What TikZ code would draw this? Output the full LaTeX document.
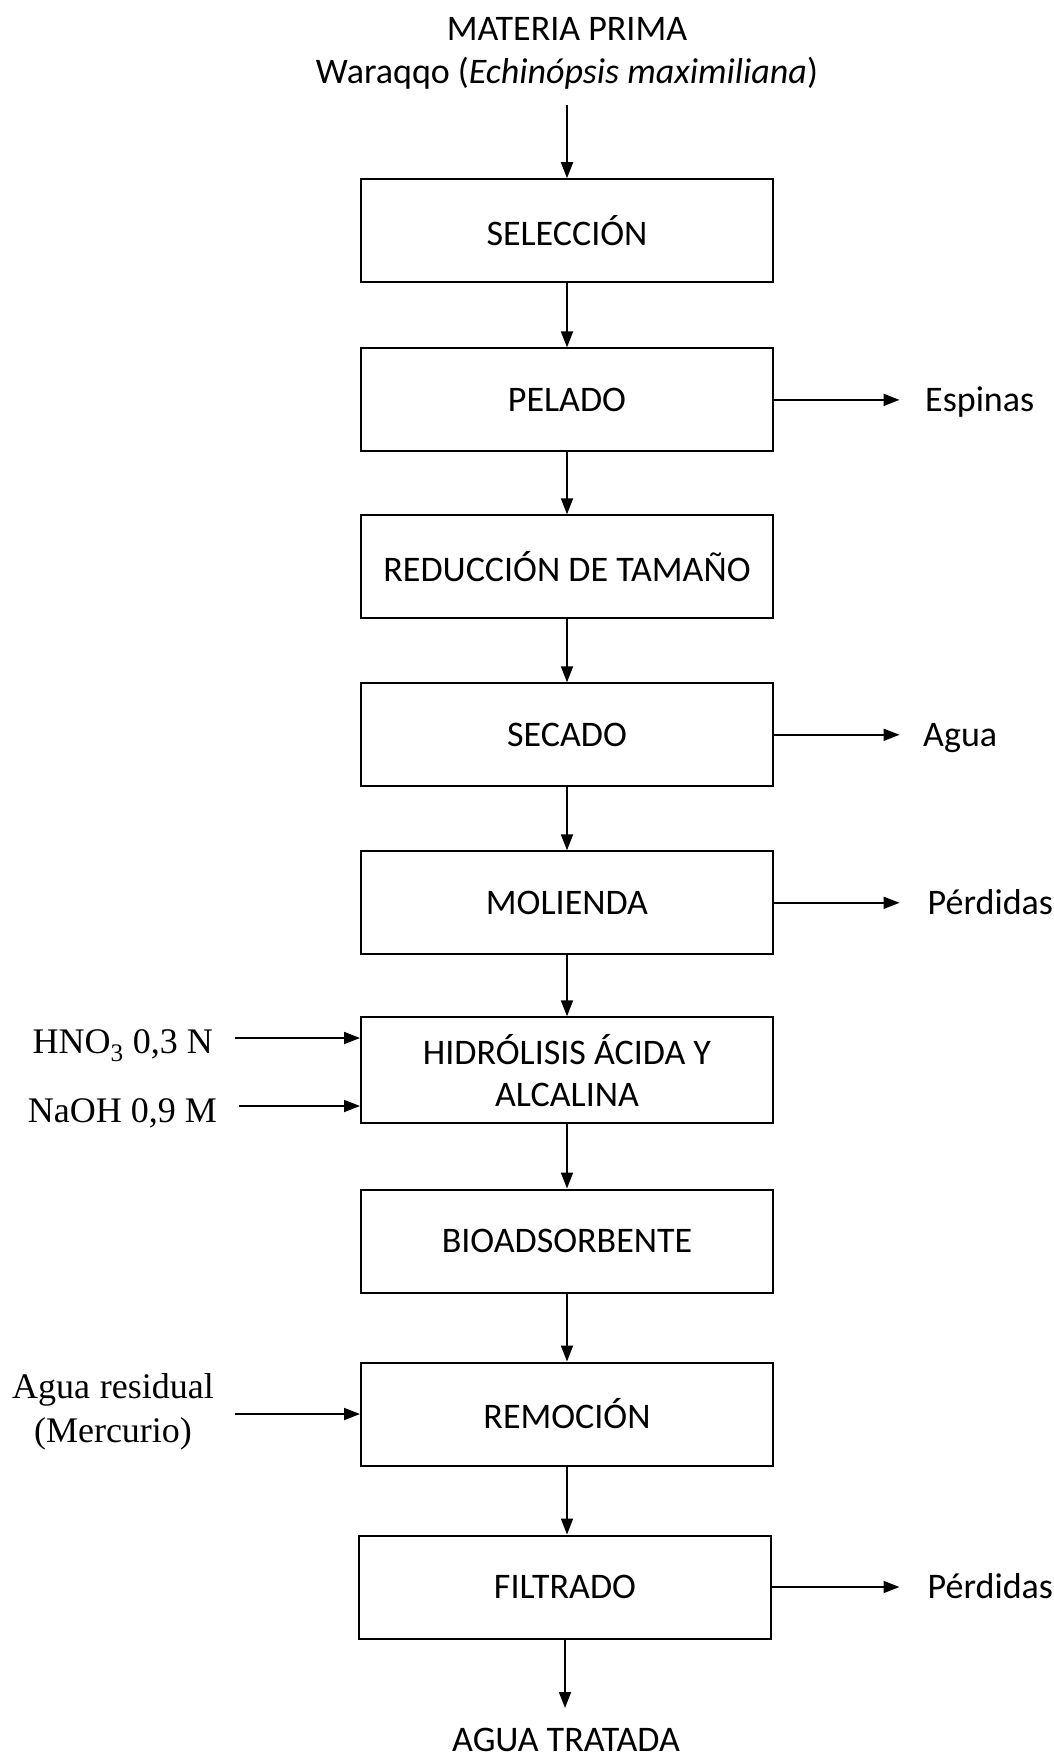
\documentclass[tikz,border=0pt]{standalone}
\usepackage{fontspec}
\setmainfont{Carlito}
\newfontfamily\timesf{Liberation Serif}
\usetikzlibrary{arrows.meta}
\begin{document}
\begin{tikzpicture}[x=1pt,y=-1pt,
 proc/.style={draw, line width=2pt, minimum width=412pt, minimum height=103pt, align=center, inner sep=0pt, font=\fontsize{36}{42}\selectfont},
 lbl/.style={font=\fontsize{36}{42}\selectfont, inner sep=0pt},
 tlbl/.style={font=\timesf\fontsize{36}{44}\selectfont, inner sep=0pt, align=center},
 arr/.style={line width=1.8pt, -{Triangle[width=12pt,length=16pt]}}]
\useasboundingbox (0,0) rectangle (1054,1756);
\node[lbl] (mp) at (567,29) {MATERIA PRIMA};
\node[lbl] (wq) at (567,73) {Waraqqo (\textit{Echinópsis maximiliana})};
\coordinate (wqb) at (567,105);
\node[proc] (sel) at (567,230.7) {SELECCIÓN};
\node[proc] (pel) at (567,399.9) {PELADO};
\node[proc] (red) at (567,566.8) {REDUCCIÓN DE TAMAÑO};
\node[proc] (sec) at (567,734.8) {SECADO};
\node[proc] (mol) at (567,902.8) {MOLIENDA};
\node[proc, minimum height=106pt] (hyd) at (567,1070.3) {HIDRÓLISIS ÁCIDA Y\\ALCALINA};
\node[proc] (bio) at (567,1241) {BIOADSORBENTE};
\node[proc] (rem) at (567,1414) {REMOCIÓN};
\node[proc] (fil) at (565,1587) {FILTRADO};
\node[lbl, anchor=base] (agt) at (566,1751) {AGUA TRATADA};
\coordinate (agtA) at (565,1708);

\node[lbl, anchor=base west] (esp) at (925,411.5) {Espinas};
\node[lbl, anchor=base west] (agu) at (923,746.4) {Agua};
\node[lbl, anchor=base west] (per1) at (927.5,914.4) {Pérdidas};
\node[lbl, anchor=base west] (per2) at (927.5,1598.6) {Pérdidas};
\coordinate (espA) at (899.5,399.9);
\coordinate (aguA) at (899.5,734.8);
\coordinate (per1A) at (899.5,902.8);
\coordinate (per2A) at (899.5,1587);

\node[tlbl, anchor=base east] (hno) at (213,1053) {HNO\textsubscript{3} 0,3 N};
\node[tlbl, anchor=base east] (nao) at (217,1122) {NaOH 0,9 M};
\node[tlbl] (ares) at (113,1412) {Agua\hspace{10pt}residual\\(Mercurio)};
\coordinate (hnoA) at (235,1038);
\coordinate (naoA) at (238.6,1106);
\coordinate (aresA) at (235,1414);

\draw[arr] (wqb) -- (sel.north);
\draw[arr] (sel) -- (pel);
\draw[arr] (pel) -- (red);
\draw[arr] (red) -- (sec);
\draw[arr] (sec) -- (mol);
\draw[arr] (mol) -- (hyd);
\draw[arr] (hyd) -- (bio);
\draw[arr] (bio) -- (rem);
\draw[arr] (rem.south) -- (rem.south |- fil.north);
\draw[arr] (fil.south) -- (agtA);

\draw[arr] (pel.east) -- (espA);
\draw[arr] (sec.east) -- (aguA);
\draw[arr] (mol.east) -- (per1A);
\draw[arr] (fil.east) -- (per2A);

\draw[arr] (hnoA) -- (hnoA -| hyd.west);
\draw[arr] (naoA) -- (naoA -| hyd.west);
\draw[arr] (aresA) -- (aresA -| rem.west);
\end{tikzpicture}
\end{document}
